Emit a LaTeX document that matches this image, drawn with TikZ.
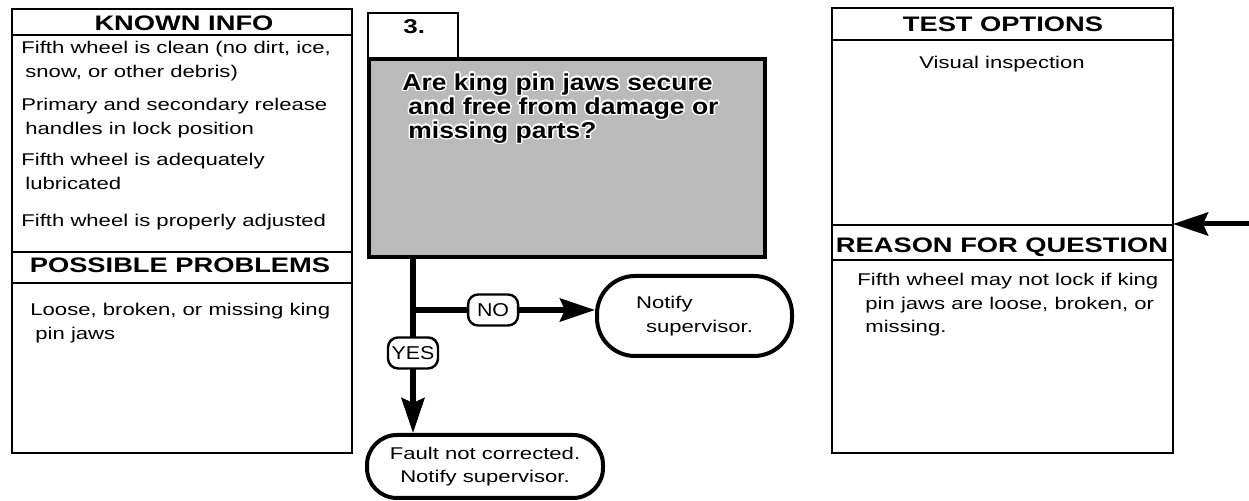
\documentclass[tikz,border=0pt]{standalone}
\usepackage{fontspec}
\setmainfont{Liberation Sans}[FakeStretch=1.3]
\newfontfamily\askfont{Liberation Sans}[FakeStretch=1.15]
\usepackage[copies]{contour}
\contourlength{0.7pt}
\usetikzlibrary{arrows.meta,positioning}

\tikzset{
  panel/.style={draw,line width=1.2pt},
  head/.style={font=\bfseries\fontsize{10.5}{12}\selectfont,inner sep=0pt,anchor=base},
  note/.style={font=\fontsize{8.5}{11.8}\selectfont,align=left,anchor=north west,inner sep=0pt},
  ask/.style={draw,line width=2pt,fill=black!27,anchor=north west,minimum width=198pt,minimum height=99pt,inner sep=0pt},
  numtab/.style={draw,line width=1.2pt,fill=white,anchor=north west,minimum width=45pt,minimum height=22.5pt,inner sep=0pt},
  endbox/.style={draw,line width=2pt,fill=white,font=\fontsize{8.5}{11.8}\selectfont,inner sep=0pt},
  answer/.style={draw,line width=1.2pt,rounded corners=5pt,fill=white,font=\askfont\fontsize{9.3}{11}\selectfont,inner sep=0pt,minimum width=25pt,minimum height=15.5pt},
  flow/.style={line width=2.8pt,-{Stealth[length=17.5pt,width=11.5pt,inset=2.5pt]}},
}

\begin{document}
\begin{tikzpicture}[x=0.5pt,y=-0.5pt]
  \useasboundingbox[fill=white] (0,0) rectangle (1249,501);

  % left column: known info and possible problems
  \draw[panel] (12,9) rectangle (352,453);
  \draw[panel] (12,35) -- (352,35) (12,252) -- (352,252) (12,283) -- (352,283);
  \node[head] (known) at (184,31) {KNOWN INFO};
  \node[note] (known1) at (21,41) {Fifth wheel is clean (no dirt, ice,\\\hspace*{2pt}snow, or other debris)};
  \node[note] (known2) at (21,98) {Primary and secondary release\\\hspace*{2pt}handles in lock position};
  \node[note] (known3) at (21,153) {Fifth wheel is adequately\\\hspace*{2pt}lubricated};
  \node[note] (known4) at (21,214) {Fifth wheel is properly adjusted};
  \node[head] (probs) at (180,273) {POSSIBLE PROBLEMS};
  \node[note] (probs1) at (30,303) {Loose, broken, or missing king\\\hspace*{2.5pt}pin jaws};

  % question step
  \node[numtab] (tab) at (367,12) {};
  \node[font=\bfseries\fontsize{10}{11}\selectfont,anchor=base west,inner sep=0pt] (num) at (403,34) {3.};
  \node[ask] (q) at (367,57) {};
  \node[anchor=north west,inner sep=0pt,align=left,font=\askfont\bfseries\fontsize{11.5}{12}\selectfont] (qtext) at (402,73)
    {\contour{white}{Are king pin jaws secure}\\\hspace*{3pt}\contour{white}{and free from damage or}\\\hspace*{3pt}\contour{white}{missing parts?}};

  % outcomes
  \coordinate (split) at (413,310);
  \node[endbox,rounded corners=19pt,align=left,minimum width=97.5pt,minimum height=40pt] (notify) at (694.5,316) {Notify\\\hspace*{5pt}supervisor.};
  \node[endbox,rounded corners=15pt,align=center,minimum width=118pt,minimum height=31.5pt] (fault) at (485,466.5) {Fault not corrected.\\Notify supervisor.};
  \draw[flow] (q.south -| split) -- node[answer,pos=0.54] (yes) {YES} (fault.north -| split);
  \draw[flow] (split) -- node[answer,pos=0.44] (no) {NO} (notify.west |- split);

  % right column: test options and reason
  \draw[panel] (832,8) rectangle (1173,453);
  \draw[panel] (832,40) -- (1173,40) (832,225) -- (1173,225) (832,260) -- (1173,260);
  \node[head] (tests) at (1003,32) {TEST OPTIONS};
  \node[note,anchor=north] (test1) at (1002,56) {Visual inspection};
  \node[head] (reason) at (1002,253) {REASON FOR QUESTION};
  \node[note] (reason1) at (857,273) {Fifth wheel may not lock if king\\\hspace*{4pt}pin jaws are loose, broken, or\\\hspace*{4pt}missing.};

  % incoming flow from the previous step
  \coordinate (entry) at (1173,224);
  \coordinate (feed) at (1249,224);
  \draw[flow,line width=2.5pt] (feed) -- (entry);
\end{tikzpicture}
\end{document}
